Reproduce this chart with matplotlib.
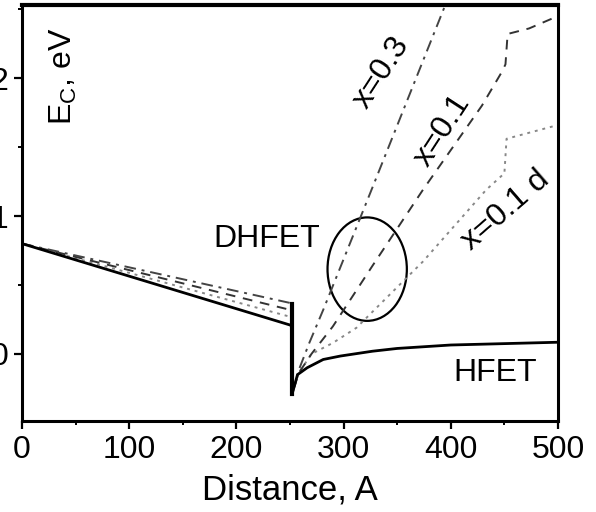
import matplotlib
matplotlib.use("Agg")
import matplotlib.pyplot as plt
from matplotlib.patches import Ellipse
from matplotlib.ticker import MultipleLocator

plt.rcParams['font.family'] = ['Liberation Sans', 'DejaVu Sans']
plt.rcParams['mathtext.default'] = 'regular'

# conduction band edge profiles (distance in A, E_C in eV)
hfet_x = [0, 250, 252, 252, 257, 266, 281, 297, 327, 350, 400, 450, 500]
hfet_y = [0.80, 0.21, 0.20, -0.29, -0.15, -0.10, -0.04, -0.015, 0.02, 0.04, 0.065, 0.075, 0.085]

x03_x = [0, 250, 252, 252, 258, 268, 281, 325, 400]
x03_y = [0.80, 0.37, 0.36, -0.29, -0.12, 0.08, 0.32, 1.17, 2.63]

x01_x = [0, 250, 252, 252, 258, 270, 290, 306, 327, 374, 429, 448, 451, 453, 473, 500]
x01_y = [0.80, 0.32, 0.31, -0.29, -0.14, 0.0, 0.20, 0.39, 0.64, 1.19, 1.80, 2.05, 2.10, 2.32, 2.36, 2.45]

x01d_x = [0, 250, 252, 252, 258, 270, 290, 312, 374, 433, 450, 452, 500]
x01d_y = [0.80, 0.27, 0.26, -0.29, -0.14, 0.0, 0.08, 0.19, 0.67, 1.19, 1.31, 1.56, 1.66]

x_ticks = [0, 100, 200, 300, 400, 500]
y_ticks = [0, 1, 2]

fig = plt.figure(figsize=(5.96, 5.12), dpi=100)
ax = fig.add_axes([22 / 596, 1 - 421 / 512, 536 / 596, 416 / 512])

ax.plot(x01d_x, x01d_y, color='#888888', lw=1.4, ls=(0, (1.5, 2.5)))
ax.plot(x01_x, x01_y, color='#333333', lw=1.4, ls=(0, (5, 4)))
ax.plot(x03_x, x03_y, color='#444444', lw=1.4, ls=(0, (6, 3, 1.5, 3)))
ax.plot(hfet_x, hfet_y, color='black', lw=2.0)
# the thick drop at the heterointerface
ax.plot([hfet_x[2], hfet_x[3]], [x03_y[2], hfet_y[3]], color='black', lw=3.0)

ax.add_patch(Ellipse((322, 0.615), 74, 0.75, fill=False, ec='black', lw=1.6))

fs = 23
ax.text(228, 0.83, 'DHFET', fontsize=fs, ha='center', va='center')
ax.text(441, -0.14, 'HFET', fontsize=fs, ha='center', va='center')
ax.text(39, 2.01, 'E$_C$, eV', fontsize=fs, rotation=90, ha='center', va='center')
ax.text(335, 2.04, 'x=0.3', fontsize=fs, rotation=57, ha='center', va='center',
        rotation_mode='anchor')
ax.text(392, 1.62, 'x=0.1', fontsize=fs, rotation=57, ha='center', va='center',
        rotation_mode='anchor')
ax.text(451, 1.04, 'x=0.1 d', fontsize=fs, rotation=41, ha='center', va='center',
        rotation_mode='anchor')

ax.set_xlim(0, 500)
ax.set_ylim(-0.486, 2.53)
ax.set_xticks(x_ticks)
ax.set_yticks(y_ticks)
ax.xaxis.set_minor_locator(MultipleLocator(50))
ax.yaxis.set_minor_locator(MultipleLocator(0.5))
ax.tick_params(which='major', direction='out', length=6, width=1.6, labelsize=fs, pad=4)
ax.tick_params(which='minor', direction='out', length=3, width=1.4)
ax.set_xlabel('Distance, A', fontsize=25, labelpad=6)

for sp in ax.spines.values():
    sp.set_linewidth(2.2)
ax.spines['top'].set_linewidth(3.0)

fig.savefig('out.png', dpi=100)
